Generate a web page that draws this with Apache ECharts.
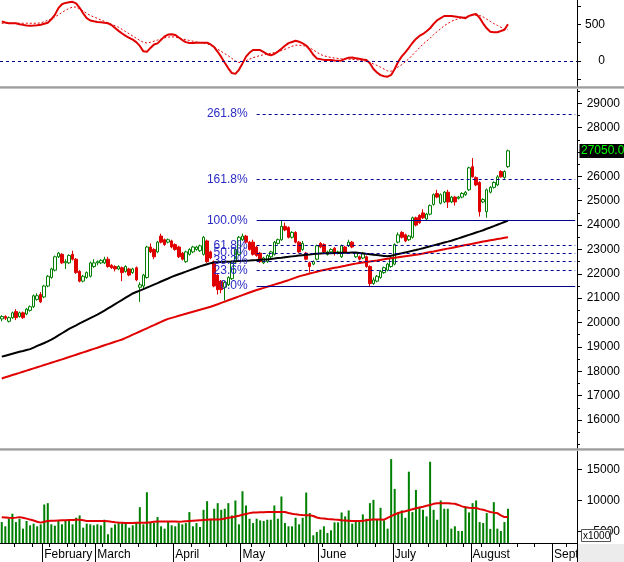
<!DOCTYPE html>
<html><head><meta charset="utf-8">
<script src="https://cdn.jsdelivr.net/npm/echarts@6/dist/echarts.min.js"></script>
<style>html,body{margin:0;padding:0;background:#fff}#c{width:624px;height:562px}</style>
</head><body><div id="c"></div>
<script>
const tradingDays = {
  '2018-01': [16,17,18,19,22,23,24,25,26,29,30,31],
  '2018-02': [1,2,5,6,7,8,9,12,13,21,22,23,26,27,28],
  '2018-03': [1,2,5,6,7,8,9,12,13,14,15,16,19,20,21,22,23,26,27,28,29,30],
  '2018-04': [2,3,4,5,6,9,10,11,12,13,16,17,18,19,20,23,24,26,27],
  '2018-05': [2,3,4,7,8,9,10,11,14,15,16,17,18,21,22,23,24,25,28,29,30,31],
  '2018-06': [1,4,5,6,7,8,11,12,13,14,15,18,19,20,21,22,25,26,27,28,29],
  '2018-07': [2,3,4,5,6,9,10,11,12,13,16,17,18,19,20,23,24,25,26,27,30,31],
  '2018-08': [1,2,3,6,7,8,9,10,13,14,15,16,17,20,21,22,23,24,27,28,29,30,31],
  '2018-09': [4,5,6,7,10,11,12]
};
const monthNames = {'01':'January','02':'February','03':'March','04':'April','05':'May','06':'June','07':'July','08':'August','09':'Sept'};

const open = [20150,20250,20050,20200,20450,20250,20400,20350,20500,20650,20950,21150,21050,21500,21850,22150,22700,22800,22450,22450,22800,22600,22100,21700,21850,21900,22300,22450,22450,22450,22600,22350,22300,22200,22250,22100,22200,22050,22250,21450,21500,21850,23100,23000,22900,23550,23400,23300,23350,23200,23100,22850,22500,22800,22900,23000,22950,22800,23350,22900,22500,21950,21700,21450,21550,21800,22500,22800,23400,23550,23300,23300,23100,22850,22450,22500,22700,22800,23250,23400,23950,23900,23500,23700,23300,23000,22850,22450,22400,22600,23250,23200,22800,22900,23050,22850,22700,23100,23150,23300,22700,22700,22650,22700,22300,21600,21700,21850,22050,22150,22300,22400,23300,23700,23600,23400,23500,24300,24400,24500,24250,24450,24850,25300,24900,24950,25350,24950,25150,25100,25150,25250,25450,26400,25950,25750,24950,24550,25350,25550,25650,26200,25950,26400];
const close = [20250,20180,20200,20400,20200,20400,20200,20550,20650,21100,21100,20850,21500,21900,22200,22700,22850,22450,22500,22750,22600,22050,21700,21900,22050,22450,22450,22500,22550,22600,22300,22250,22200,22300,22050,22300,21950,22200,21750,21550,21950,23100,22900,22700,23300,23300,23200,23400,23100,23000,22700,22600,22900,23000,23100,23100,23150,23500,22500,22650,21500,21350,21350,21650,21850,22500,23000,23500,23550,23300,23000,22800,22750,22500,22650,22750,22900,23300,23400,23950,23800,23500,23700,23300,22900,23250,22600,22300,22500,23150,23100,22900,22900,23000,22850,22900,23150,22900,23300,23100,22850,22600,22850,22300,21600,21750,21900,22100,22250,22400,22650,23200,23600,23500,23350,23550,24300,24000,24100,24300,24450,24800,25250,25150,25250,25350,24950,25150,24950,25150,25300,25350,26350,25980,25650,24550,25050,25450,25550,25750,25980,25980,26200,27050];
const low = [20050,20100,20000,20150,20100,20200,20150,20300,20450,20600,20900,20800,21000,21450,21800,22100,22650,22400,22200,22400,22550,22000,21650,21650,21800,21850,22250,22350,22400,22400,22250,22200,22100,22150,21700,22050,21900,22000,21700,20850,21400,21800,22850,22600,22850,23250,23150,23250,23050,22950,22650,22550,22450,22750,22850,22950,22900,22750,22450,22600,21450,21150,21200,20900,21500,21750,22450,22750,23350,23250,22950,22750,22700,22450,22400,22450,22650,22750,23200,23350,23750,23450,23450,23250,22850,22950,22550,22050,22350,22550,23050,22850,22750,22850,22750,22800,22650,22850,23100,23050,22650,22550,22600,22250,21500,21550,21650,21800,22000,22100,22250,22350,23250,23450,23300,23350,23450,23950,24050,24250,24200,24400,24800,25100,24850,24900,24700,24900,24800,25050,25100,25200,25400,25950,25600,24350,24900,24300,25300,25500,25600,25950,25900,26350];
const high = [20300,20300,20250,20450,20550,20450,20450,20600,20700,21150,21200,21250,21550,21950,22250,22750,22900,22850,22600,22800,22950,22650,22150,21950,22100,22500,22600,22550,22600,22700,22700,22400,22350,22350,22300,22350,22250,22250,22300,21650,22000,23150,23250,23050,23350,23650,23450,23450,23400,23250,23150,22900,22950,23050,23150,23150,23200,23550,23400,22950,22550,22000,21750,21700,21900,22550,23050,23550,23650,23600,23350,23400,23150,22900,22700,22800,22950,23350,23450,24200,24100,23950,23750,23750,23350,23350,22900,22500,22550,23200,23300,23250,22950,23050,23100,22950,23200,23150,23400,23350,22900,22750,22900,22750,22350,21850,21950,22150,22300,22450,22700,23250,23700,23750,23650,23600,24350,24350,24450,24650,24500,24850,25300,25450,25300,25400,25450,25200,25200,25200,25350,25400,26400,26750,26000,25800,25100,25500,25600,25800,26050,26250,26250,27100];

const ma50 = [18600,18640,18680,18720,18760,18800,18830,18870,18910,18970,19040,19100,19160,19230,19300,19380,19470,19560,19650,19740,19816,19888,19963,20035,20107,20182,20254,20329,20405,20492,20581,20668,20755,20843,20930,21019,21106,21193,21254,21311,21371,21433,21495,21559,21621,21684,21746,21808,21872,21929,21984,22036,22089,22143,22196,22250,22305,22349,22394,22438,22470,22478,22485,22492,22499,22506,22515,22524,22532,22541,22549,22558,22566,22575,22583,22592,22611,22628,22646,22663,22681,22698,22716,22733,22751,22766,22780,22794,22809,22823,22836,22841,22845,22849,22853,22857,22861,22865,22869,22873,22873,22856,22839,22821,22804,22787,22769,22752,22735,22717,22744,22777,22811,22844,22878,22911,22944,22978,23015,23053,23092,23130,23169,23207,23244,23283,23321,23360,23406,23454,23503,23550,23599,23646,23695,23742,23790,23849,23901,23959,24015,24071,24129,24186];
const ma100 = [17706,17752,17798,17844,17890,17935,17981,18027,18073,18119,18165,18210,18256,18302,18348,18394,18440,18487,18535,18583,18632,18680,18728,18776,18824,18872,18920,18968,19017,19065,19113,19161,19209,19257,19305,19369,19435,19501,19567,19632,19698,19764,19830,19895,19961,20027,20093,20150,20192,20234,20276,20317,20359,20401,20443,20484,20526,20568,20610,20651,20699,20752,20806,20859,20913,20966,21020,21073,21127,21180,21234,21287,21335,21380,21424,21469,21513,21558,21603,21647,21692,21739,21791,21843,21895,21937,21974,22012,22049,22087,22124,22157,22186,22216,22245,22274,22304,22333,22363,22392,22419,22441,22463,22485,22507,22529,22550,22572,22594,22616,22638,22659,22680,22701,22722,22742,22763,22784,22807,22835,22864,22892,22920,22949,22977,23005,23034,23062,23092,23121,23150,23179,23208,23237,23266,23295,23324,23351,23376,23401,23426,23451,23477,23502];

const volume = [6500,5810,7040,7850,6500,7040,5430,6670,5970,6240,5810,6130,9350,9570,6130,5910,6770,6130,6770,6880,6130,7200,7580,5590,6240,6130,5970,6130,5970,6880,4520,5590,6130,6500,6500,6240,5590,5970,6500,8920,6130,11340,6500,6340,7310,5810,5430,6500,5970,5810,6340,6130,6340,8120,5810,6340,5700,8490,9890,7040,8660,9570,8490,8660,9570,7580,10000,6130,11500,9190,7040,6340,7040,6770,6670,6880,6880,9190,7040,10650,6340,5810,5810,7200,6130,7200,11290,7960,4350,4890,5270,5810,4730,5160,6450,6450,8060,7420,8390,6240,6500,6770,7740,7040,9570,10110,6880,8820,6770,5430,16720,11880,8120,8390,7200,14680,8120,11720,8820,8490,7420,16290,8490,6880,10000,8660,8660,5430,5810,5050,5050,9030,8060,9570,10000,6500,6340,7960,5380,9730,5430,5050,6500,8660];
const volumeMA = [7290,7240,7190,7160,7220,7300,7200,7060,6900,6760,6550,6410,6550,6670,6700,6730,6770,6790,6800,6830,6850,6870,6880,6780,6670,6660,6660,6660,6660,6660,6630,6540,6480,6430,6390,6350,6350,6360,6370,6380,6390,6400,6470,6550,6610,6610,6610,6610,6610,6590,6570,6590,6640,6690,6730,6770,6810,6850,6880,6900,6910,6930,6970,7070,7190,7290,7410,7530,7680,7810,7950,8060,8070,8090,8110,8118,8118,8118,8118,8118,8118,7980,7850,7750,7680,7640,7620,7600,7490,7240,7110,7060,7000,6950,6900,6860,6810,6770,6720,6660,6660,6660,6690,6810,6890,6920,6920,6910,6890,7180,7460,7730,7970,8130,8270,8410,8570,8730,8870,9000,9140,9270,9460,9570,9570,9570,9540,9500,9470,9280,9050,8910,8810,8790,8770,8600,8490,8310,8140,8030,7960,7600,7310,7310];

const macd = [540,525,514,514,514,500,492,483,480,482,486,493,507,521,567,628,720,773,791,800,806,785,725,650,585,552,541,532,527,520,514,490,450,410,375,342,316,290,257,205,131,125,178,225,240,288,335,360,364,355,320,285,257,245,246,248,249,249,249,225,190,125,55,-25,-100,-165,-176,-120,-33,59,115,150,150,148,120,92,77,95,128,165,207,243,259,275,263,240,211,155,85,35,25,15,14,14,8,3,8,28,45,46,38,30,21,13,-30,-110,-157,-193,-207,-214,-190,-110,-10,62,118,180,245,300,342,368,405,446,505,555,585,613,613,613,607,599,592,583,615,630,640,587,510,445,398,391,392,408,425,500];
const macdSignal = [514,514,514,514,514,514,514,514,514,514,514,520,535,555,575,600,630,660,690,715,735,735,710,680,650,620,600,580,560,540,520,500,480,460,430,400,370,340,310,280,255,245,255,270,285,300,315,325,330,325,315,300,290,280,270,260,252,245,235,215,185,160,130,100,70,35,0,-20,-15,5,25,45,60,75,85,95,105,115,125,140,160,180,200,215,215,210,200,180,150,120,90,70,58,48,40,35,30,28,25,22,18,12,5,-5,-20,-40,-60,-85,-110,-135,-140,-110,-80,-50,-10,30,80,130,180,230,270,310,360,400,440,480,510,540,560,575,590,600,610,620,625,620,600,570,540,510,485,460,440,425];

const fibLow = 21500, fibHigh = 24200;
const fibRatios = [0, 23.6, 38.2, 50, 61.8, 100, 161.8, 261.8];
const fibStartDate = '2018-05-08';

const priceTicksMajor = [16000,17000,18000,19000,20000,21000,22000,23000,24000,25000,26000,27000,28000,29000];
const priceTicksMinor = [15000,15500,16500,17500,18500,19500,20500,21500,22500,23500,24500,25500,26500,27500,28500,29500];
const volTicks = [5000,10000,15000];
const macdTicks = [-250,0,250,500,750];
const macdLabels = [0,500];

// ---- build
const dates = [];
for (const m of Object.keys(tradingDays)) for (const d of tradingDays[m]) dates.push(m + '-' + String(d).padStart(2, '0'));
const dow = s => new Date(s + 'T00:00:00Z').getUTCDay();
const monthStart = dates.map((d, i) => i > 0 && d.slice(0, 7) !== dates[i - 1].slice(0, 7));
const weekStart = dates.map((d, i) => i > 0 && (dow(d) <= dow(dates[i - 1]) || (new Date(d) - new Date(dates[i - 1])) >= 7 * 864e5));
const candles = open.map((o, i) => [o, close[i], low[i], high[i]]);
const lastDate = dates[dates.length - 1];
const lastClose = close[close.length - 1];

const FONT = 'Liberation Sans, Arial, sans-serif';
const fibColorLine = '#000090', fibColorText = '#2b2bc4';
const fibMarks = fibRatios.map(r => {
  const v = fibLow + (fibHigh - fibLow) * r / 100;
  const solid = (r === 0 || r === 100);
  return [
    { coord: [fibStartDate, v], lineStyle: { color: fibColorLine, width: 1, type: solid ? 'solid' : [3, 3] },
      label: { show: true, position: 'start', distance: 9, formatter: r.toFixed(1) + '%', color: fibColorText, fontSize: 12, fontFamily: FONT } },
    { coord: [lastDate, v] }
  ];
});
const plain = v => String(v);

const R = 47;
const yBase = {
  type: 'value', position: 'right', scale: true,
  axisLine: { show: true, lineStyle: { color: '#000', width: 1 } },
  splitLine: { show: false }
};
const staticGraphics = [
  { id: 'sep1a', type: 'rect', z: 100, shape: { x: 0, y: 86.5, width: 624, height: 1.2 }, style: { fill: '#6e6e6e' } },
  { id: 'sep1b', type: 'rect', z: 100, shape: { x: 0, y: 87.7, width: 624, height: 1.2 }, style: { fill: '#c4c4c4' } },
  { id: 'sep2a', type: 'rect', z: 100, shape: { x: 0, y: 448.5, width: 624, height: 1.2 }, style: { fill: '#6e6e6e' } },
  { id: 'sep2b', type: 'rect', z: 100, shape: { x: 0, y: 449.7, width: 624, height: 1.2 }, style: { fill: '#c4c4c4' } },
  { id: 'corner', type: 'rect', z: 90, shape: { x: 578, y: 544, width: 46, height: 18 }, style: { fill: '#ececec' } },
  { id: 'unitBox', type: 'rect', z: 100, shape: { x: 581.5, y: 529.5, width: 29, height: 12 }, style: { fill: '#ffffff', stroke: '#555', lineWidth: 1 } },
  { id: 'unitText', type: 'text', z: 101, x: 583, y: 531, style: { text: 'x1000', fontSize: 10, fontFamily: FONT, fill: '#000' } }
];
const chart = echarts.init(document.getElementById('c'), null, { renderer: 'canvas' });
chart.setOption({
  animation: false,
  textStyle: { fontFamily: FONT },
  grid: [
    { left: 0, right: R, top: 0, height: 86 },
    { left: 0, right: R, top: 89, height: 359 },
    { left: 0, right: R, top: 450, height: 93 }
  ],
  xAxis: [
    { type: 'category', gridIndex: 0, data: dates, show: false },
    { type: 'category', gridIndex: 1, data: dates, show: false },
    { type: 'category', gridIndex: 2, data: dates, position: 'bottom',
      axisLine: { show: true, lineStyle: { color: '#000' } },
      axisTick: { show: true, interval: i => weekStart[i] || monthStart[i], length: 4, lineStyle: { color: '#000' } },
      axisLabel: { interval: i => monthStart[i], formatter: v => monthNames[v.slice(5, 7)], align: 'left', margin: 6,
        color: '#000', fontSize: 12, fontFamily: FONT },
      splitLine: { show: false } },
    { type: 'category', gridIndex: 2, data: dates, position: 'bottom',
      axisLine: { show: false },
      axisTick: { show: true, interval: i => monthStart[i], length: 19, lineStyle: { color: '#000' } },
      axisLabel: { show: false }, splitLine: { show: false } }
  ],
  yAxis: [
    Object.assign({}, yBase, { gridIndex: 0, min: -341, max: 831,
      axisTick: { show: true, customValues: macdTicks, length: 4, lineStyle: { color: '#000' } },
      axisLabel: { customValues: macdLabels, formatter: plain, align: 'right', margin: 28, color: '#000', fontSize: 12, fontFamily: FONT } }),
    Object.assign({}, yBase, { gridIndex: 1, min: 14850, max: 29587,
      axisTick: { show: true, customValues: priceTicksMajor, length: 5, lineStyle: { color: '#000' } },
      axisLabel: { customValues: priceTicksMajor, formatter: plain, align: 'right', margin: 43, color: '#000', fontSize: 12, fontFamily: FONT } }),
    Object.assign({}, yBase, { gridIndex: 2, min: 3100, max: 18200,
      axisTick: { show: true, customValues: volTicks, length: 5, lineStyle: { color: '#000' } },
      axisLabel: { customValues: volTicks, formatter: plain, align: 'right', margin: 43, color: '#000', fontSize: 12, fontFamily: FONT } }),
    Object.assign({}, yBase, { gridIndex: 1, min: 14850, max: 29587,
      axisLine: { show: false },
      axisTick: { show: true, customValues: priceTicksMinor, length: 3, lineStyle: { color: '#000' } },
      axisLabel: { show: false } })
  ],
  series: [
    { type: 'line', xAxisIndex: 0, yAxisIndex: 0, data: macd, symbol: 'none', z: 3,
      lineStyle: { color: '#e00000', width: 2 },
      markLine: { silent: true, symbol: ['none', 'none'], animation: false, label: { show: false },
        lineStyle: { color: '#000090', width: 1, type: [3, 3] }, data: [{ yAxis: 0 }] } },
    { type: 'line', xAxisIndex: 0, yAxisIndex: 0, data: macdSignal, symbol: 'none', z: 2,
      lineStyle: { color: '#e00000', width: 1, type: [2, 2] } },
    { type: 'candlestick', xAxisIndex: 1, yAxisIndex: 1, data: candles, barWidth: 3,
      itemStyle: { color: '#ffffff', color0: '#e00000', borderColor: '#008000', borderColor0: '#e00000', borderWidth: 1 },
      markLine: { silent: true, symbol: ['none', 'none'], animation: false, data: fibMarks } },
    { type: 'line', xAxisIndex: 1, yAxisIndex: 1, data: ma50, symbol: 'none', z: 4,
      lineStyle: { color: '#000000', width: 2 } },
    { type: 'line', xAxisIndex: 1, yAxisIndex: 1, data: ma100, symbol: 'none', z: 4,
      lineStyle: { color: '#e00000', width: 2 } },
    { type: 'bar', xAxisIndex: 2, yAxisIndex: 2, data: volume, barWidth: 2,
      itemStyle: { color: '#008000' } },
    { type: 'line', xAxisIndex: 2, yAxisIndex: 2, data: volumeMA, symbol: 'none', z: 4,
      lineStyle: { color: '#e00000', width: 2 } }
  ],
  graphic: staticGraphics
});
// last-price tag on the price axis, positioned through the library's own scale
const py = chart.convertToPixel({ yAxisIndex: 1 }, lastClose);
chart.setOption({
  graphic: staticGraphics.concat([
    { id: 'priceBox', type: 'rect', z: 110, shape: { x: 579.5, y: Math.round(py) - 7, width: 52, height: 14 }, style: { fill: '#000' } },
    { id: 'priceText', type: 'text', z: 111, x: 581, y: Math.round(py) - 6,
      style: { text: lastClose.toFixed(2), fontSize: 12, fontFamily: FONT, fill: '#00ff00' } }
  ])
});
</script>
</body></html>
